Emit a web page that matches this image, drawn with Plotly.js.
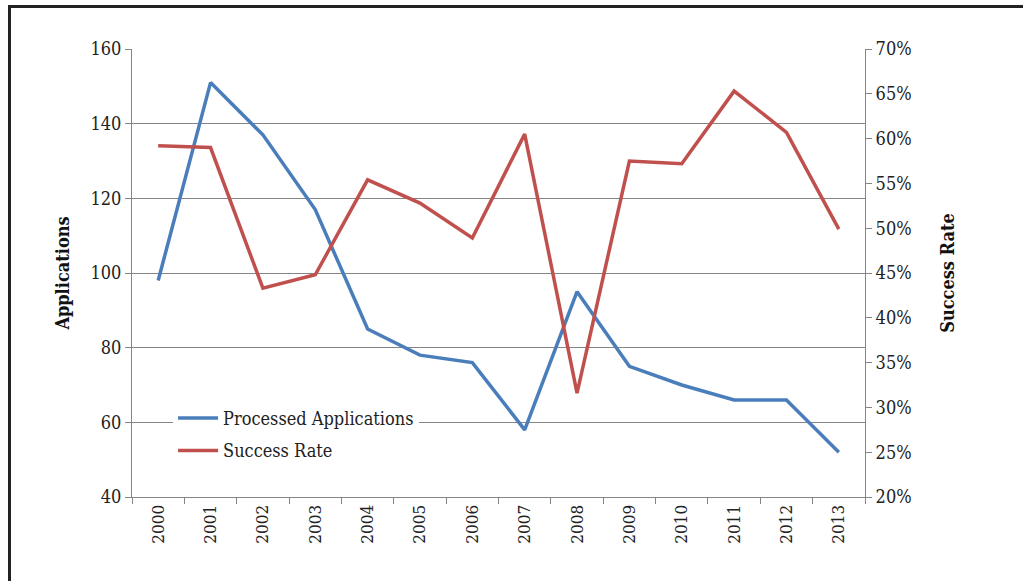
<!DOCTYPE html>
<html>
<head>
<meta charset="utf-8">
<script src="https://cdn.plot.ly/plotly-3.0.1.min.js"></script>
<style>
  html, body { margin: 0; padding: 0; background: #fff; }
  #wrap { position: relative; width: 1023px; height: 581px; overflow: hidden; }
  #chart { position: absolute; left: 0; top: 0; width: 1023px; height: 581px; }
  #frame { position: absolute; left: 8px; top: 5px; width: 1030px; height: 600px;
           border-left: 3px solid #222; border-top: 3px solid #222; pointer-events: none; }
</style>
</head>
<body>
<div id="wrap">
  <div id="chart"></div>
  <div id="frame"></div>
</div>
<script>
const years = ['2000','2001','2002','2003','2004','2005','2006','2007','2008','2009','2010','2011','2012','2013'];
const processedApplications = [98, 151, 137, 117, 85, 78, 76, 58, 95, 75, 70, 66, 66, 52];
const successRate = [0.592, 0.590, 0.433, 0.448, 0.554, 0.528, 0.489, 0.605, 0.316, 0.575, 0.572, 0.653, 0.607, 0.499];

const FONT = '"DejaVu Serif Condensed", "DejaVu Serif", serif';
const TXT = '#222222';
const GRID = '#858585';

const traces = [
  {
    x: years, y: processedApplications, name: 'Processed Applications',
    type: 'scatter', mode: 'lines', yaxis: 'y', legendgroup: 'a',
    line: { color: '#4a7ebb', width: 3.5 }
  },
  {
    x: years, y: successRate, name: 'Success Rate',
    type: 'scatter', mode: 'lines', yaxis: 'y2', legendgroup: 'b',
    line: { color: '#c0504d', width: 3.5 }
  }
];

const layout = {
  width: 1023, height: 581,
  margin: { l: 132, r: 158, t: 49, b: 84 },
  paper_bgcolor: '#fff', plot_bgcolor: '#fff',
  font: { family: FONT, size: 18, color: TXT },
  showlegend: true,
  legend: {
    x: 0.056, y: 0.217, xanchor: 'left', yanchor: 'top',
    bgcolor: '#fff', borderwidth: 0,
    font: { family: FONT, size: 18, color: TXT },
    tracegroupgap: 6, itemwidth: 40
  },
  xaxis: {
    type: 'category', tickangle: -90, range: [-0.5, 13.5],
    tickfont: { family: FONT, size: 17, color: TXT },
    showline: true, linecolor: GRID, linewidth: 1,
    ticks: 'outside', tickson: 'boundaries', ticklen: 6, tickcolor: GRID,
    showgrid: false, zeroline: false, fixedrange: true
  },
  yaxis: {
    range: [40, 160], dtick: 20, tick0: 40,
    tickfont: { family: FONT, size: 18, color: TXT },
    showline: true, linecolor: GRID, linewidth: 1,
    ticks: 'outside', ticklen: 6, tickcolor: GRID,
    showgrid: true, gridcolor: GRID, gridwidth: 1, zeroline: false,
    title: { text: '<b>Applications</b>', font: { family: FONT, size: 18, color: '#111' }, standoff: 16 }
  },
  yaxis2: {
    overlaying: 'y', side: 'right',
    range: [0.2, 0.7], dtick: 0.05, tick0: 0.2, tickformat: '.0%',
    tickfont: { family: FONT, size: 18, color: TXT },
    showline: true, linecolor: GRID, linewidth: 1,
    ticks: 'outside', ticklen: 6, tickcolor: GRID,
    showgrid: false, zeroline: false,
    title: { text: '<b>Success Rate</b>', font: { family: FONT, size: 18, color: '#111' }, standoff: 30 }
  }
};

Plotly.newPlot('chart', traces, layout, { staticPlot: true, displayModeBar: false });
</script>
</body>
</html>
